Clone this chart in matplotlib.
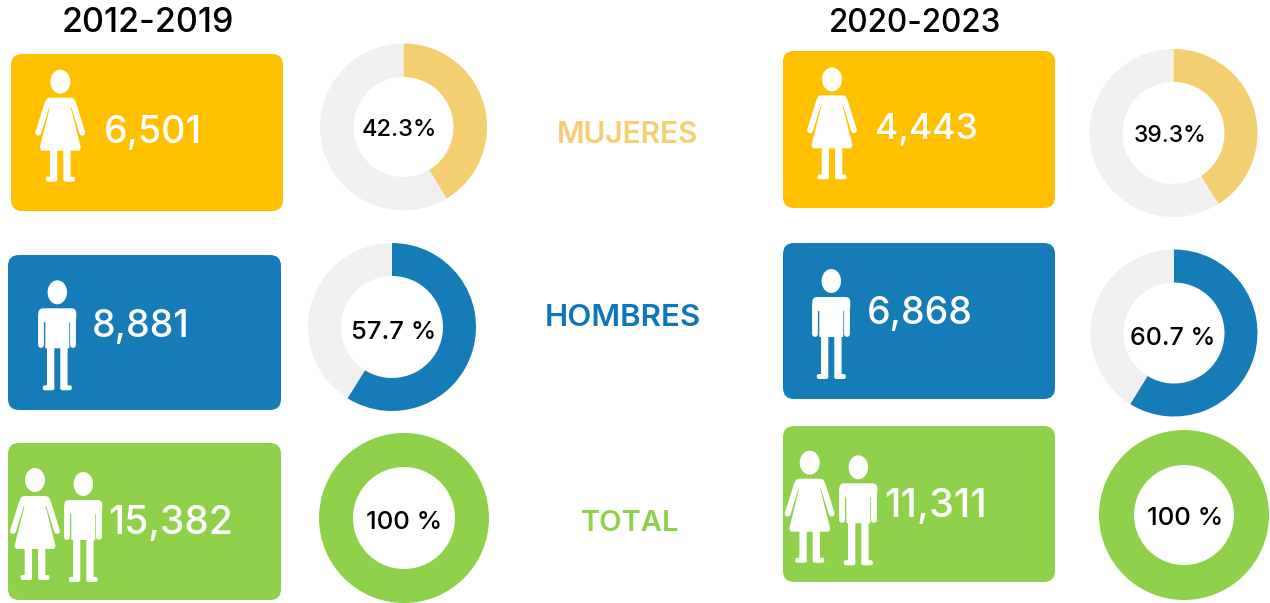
import matplotlib
matplotlib.use("Agg")
import matplotlib.pyplot as plt
from matplotlib.patches import Ellipse, FancyBboxPatch, Polygon

plt.rcParams["font.family"] = ["Inter", "DejaVu Sans"]

# data
periods = ["2012-2019", "2020-2023"]
categories = ["MUJERES", "HOMBRES", "TOTAL"]
counts_a = ["6,501", "8,881", "15,382"]
counts_b = ["4,443", "6,868", "11,311"]
share_labels_a = ["42.3%", "57.7 %", "100 %"]
share_labels_b = ["39.3%", "60.7 %", "100 %"]
# the arcs as drawn in the picture, they do not quite follow the printed labels
arcs_a = [41.4, 58.9, 100]
arcs_b = [41.0, 58.8, 100]

CARD = ["#FFC000", "#157CB8", "#8FD14A"]
RING = ["#F4CF72", "#157CB8", "#8FD14A"]
LABEL = ["#F5CF72", "#0F75BD", "#8FD14A"]
REST = "#F0F0F0"
W, H = 1270, 603

fig = plt.figure(figsize=(W / 100, H / 100), dpi=100)
ax = fig.add_axes([0, 0, 1, 1])


def Y(py):
    # work in image pixels, y measured from the top
    return H - py


def blob(x0, x1, y0, y1, r=1.5):
    ax.add_patch(FancyBboxPatch((x0, Y(y1)), x1 - x0, y1 - y0, boxstyle=f"round,pad=0,rounding_size={r}",
                                fc="white", ec="none", zorder=4))


def limb(x0, y0, x1, y1, lw=4.2):
    ax.plot([x0, x1], [Y(y0), Y(y1)], color="white", lw=lw, solid_capstyle="round", zorder=4)


def legs(x, y, top, bottom):
    blob(x - 10.3, x - 3, y + top, y + bottom - 2, 0.5)
    blob(x + 3, x + 10.3, y + top, y + bottom - 2, 0.5)
    blob(x - 14.5, x - 3, y + bottom - 5, y + bottom, 2)
    blob(x + 3, x + 14.5, y + bottom - 5, y + bottom, 2)


def woman(x, y):
    ax.add_patch(Ellipse((x, Y(y)), 20, 24, fc="white", ec="none", zorder=4))
    ax.add_patch(Polygon([(x - 9, Y(y + 20)), (x - 20.5, Y(y + 66)), (x - 19, Y(y + 69)), (x + 19, Y(y + 69)),
                          (x + 20.5, Y(y + 66)), (x + 9, Y(y + 20))], fc="white", ec="none", zorder=4))
    blob(x - 15, x + 15, y + 16, y + 26, 5)
    limb(x - 13, y + 22, x - 22, y + 51)
    limb(x + 13, y + 22, x + 22, y + 51)
    legs(x, y, 66, 100)


def man(x, y):
    ax.add_patch(Ellipse((x, Y(y)), 19.5, 24, fc="white", ec="none", zorder=4))
    blob(x - 19, x + 19, y + 16, y + 30, 5)
    blob(x - 12, x + 12, y + 20, y + 56, 0.5)
    limb(x - 16, y + 24, x - 16, y + 52.5)
    limb(x + 16, y + 24, x + 16, y + 52.5)
    legs(x, y, 54, 98)


def card(x0, x1, y0, y1, color):
    ax.add_patch(FancyBboxPatch((x0, Y(y1)), x1 - x0, y1 - y0, boxstyle="round,pad=0,rounding_size=11",
                                fc=color, ec="none", zorder=2))


def donut(cx, cy, r, inner, arc, color):
    ax.pie([arc, 100 - arc], colors=[color, REST], startangle=90, counterclock=False,
           center=(cx, Y(cy)), radius=r, frame=True,
           wedgeprops=dict(width=r - inner, linewidth=0))


# left column
cards_a = [(11, 283, 54, 211), (8, 281, 255, 410), (8, 281, 443, 600)]
rings_a = [(403.5, 127, 83.5, 50), (392, 327, 84, 51), (404, 518, 85, 51)]
count_pos_a = [(104, 143, 27), (92, 337, 27), (108, 534, 28)]
share_pos_a = [(399, 136, 17), (393.5, 339, 18.5), (404, 529, 18.5)]
# right column
cards_b = [(783, 1055, 51, 208), (783, 1055, 243, 399), (783, 1055, 426, 582)]
rings_b = [(1173.5, 133, 84, 51), (1174, 333, 83.5, 50.5), (1184, 515, 85, 50)]
count_pos_b = [(875, 138.5, 25.5), (867, 324, 27), (884, 517.5, 28.5)]
share_pos_b = [(1170, 141.5, 16.5), (1173, 345, 18), (1185, 525, 18.5)]

for i in range(3):
    for cards, rings, cpos, spos, cnt, arcs, sl in [
            (cards_a, rings_a, count_pos_a, share_pos_a, counts_a, arcs_a, share_labels_a),
            (cards_b, rings_b, count_pos_b, share_pos_b, counts_b, arcs_b, share_labels_b)]:
        card(*cards[i], CARD[i])
        donut(*rings[i], arcs[i], RING[i])
        ax.text(cpos[i][0], Y(cpos[i][1]), cnt[i], ha="left", va="baseline", color="white",
                fontsize=cpos[i][2], fontweight="medium", zorder=5)
        ax.text(spos[i][0], Y(spos[i][1]), sl[i], ha="center", va="baseline", color="black",
                fontsize=spos[i][2], fontweight="medium", zorder=5)

woman(60.3, 81.7)
man(57.3, 292.3)
woman(35, 480)
man(83.3, 484)
woman(832, 79.3)
man(831.3, 281)
woman(809.7, 462.7)
man(858.3, 467.3)

ax.text(148, Y(32), periods[0], ha="center", va="baseline", fontsize=24.5, fontweight="medium", color="black")
ax.text(915, Y(32), periods[1], ha="center", va="baseline", fontsize=22.7, fontweight="medium", color="black")

ax.text(628, Y(143.3), categories[0], ha="center", va="baseline", fontsize=21.5, fontweight="semibold", color=LABEL[0])
ax.text(622.5, Y(325.7), categories[1], ha="center", va="baseline", fontsize=22.5, fontweight="semibold", color=LABEL[1])
ax.text(630, Y(531), categories[2], ha="center", va="baseline", fontsize=21, fontweight="semibold", color=LABEL[2])

ax.set_xlim(0, W)
ax.set_ylim(0, H)
ax.set_aspect("auto")
ax.axis("off")
fig.savefig("out.png", dpi=100)
